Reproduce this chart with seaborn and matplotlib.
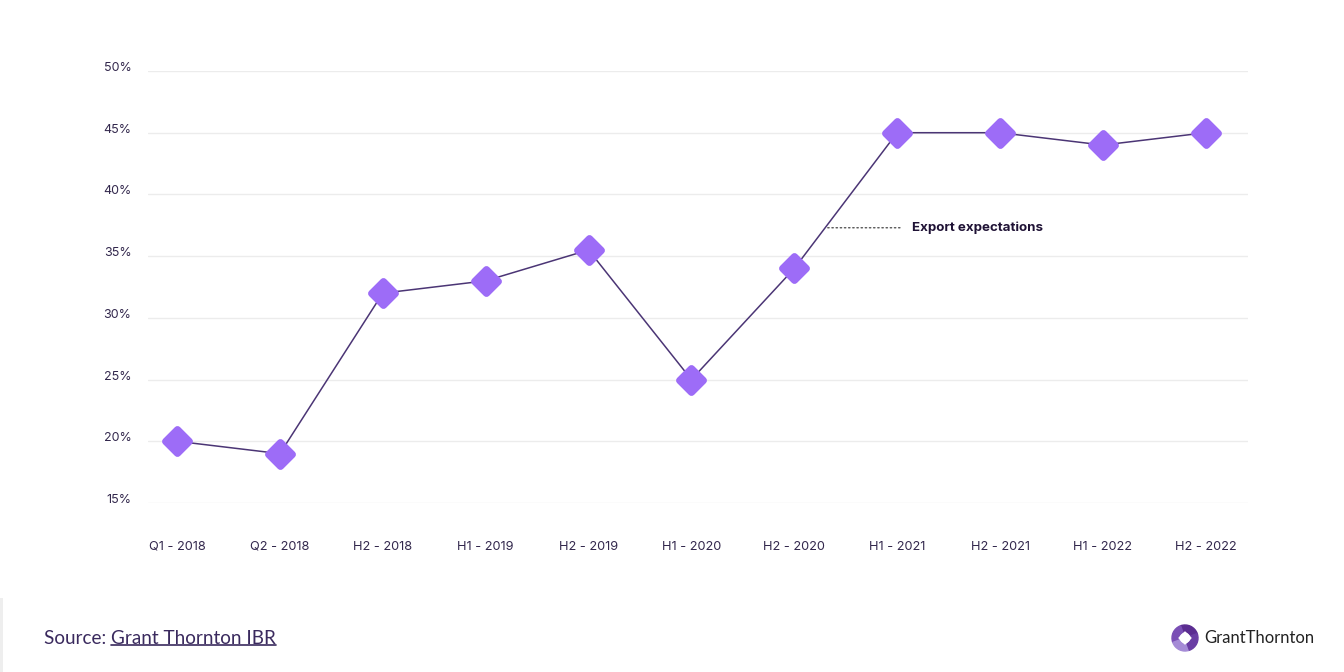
import numpy as np
import pandas as pd
import matplotlib.pyplot as plt
import seaborn as sns
from matplotlib.markers import MarkerStyle
from matplotlib.patches import Circle, Wedge, RegularPolygon, Rectangle
from matplotlib.lines import Line2D

# data
periods = ["Q1 - 2018", "Q2 - 2018", "H2 - 2018", "H1 - 2019", "H2 - 2019",
           "H1 - 2020", "H2 - 2020", "H1 - 2021", "H2 - 2021", "H1 - 2022", "H2 - 2022"]
export_pct = [20, 19, 32, 33, 35.5, 25, 34, 45, 45, 44, 45]
y_ticks = [15, 20, 25, 30, 35, 40, 45, 50]
y_tick_labels = [f"{v}%" for v in y_ticks]
series_label = "Export expectations"
label_level = 37.3
source_prefix = "Source: "
source_link = "Grant Thornton IBR"
brand = "GrantThornton"

TEXT = "#33284d"
LINE = "#4b3575"
MARK = "#9d6cf7"
GRID = "#ececec"

df = pd.DataFrame({"period": periods, "export": export_pct})

sns.set_theme(style="white")
plt.rcParams["font.family"] = ["Inter", "DejaVu Sans"]

W, H = 1344, 672
fig = plt.figure(figsize=(W / 100, H / 100), dpi=100)
fig.patch.set_facecolor("white")
ax = fig.add_axes([148 / W, (H - 503) / H, (1248 - 148) / W, (503 - 71) / H])

sns.lineplot(data=df, x="period", y="export", ax=ax, sort=False,
             color=LINE, linewidth=1.1,
             marker=MarkerStyle("D", joinstyle="round"), markersize=12,
             markerfacecolor=MARK, markeredgecolor=MARK, markeredgewidth=5,
             clip_on=False, zorder=3)

ax.set_ylim(15, 50)
ax.set_xlim(-0.282, 10.41)
ax.set_yticks(y_ticks)
ax.set_yticklabels(y_tick_labels)
ax.yaxis.grid(True, color=GRID, linewidth=1)
ax.xaxis.grid(False)
sns.despine(ax=ax, left=True, bottom=True)
ax.tick_params(axis="y", length=0, pad=12, labelsize=9, labelcolor=TEXT)
ax.tick_params(axis="x", length=0, pad=27, labelsize=9.2, labelcolor=TEXT)
for lab in ax.get_yticklabels():
    lab.set_verticalalignment("baseline")
ax.set_xlabel("")
ax.set_ylabel("")

# series label with dotted leader from the line
i0 = 6
frac = (label_level - export_pct[i0]) / (export_pct[i0 + 1] - export_pct[i0])
ax.annotate(series_label, xy=(i0 + frac, label_level), xytext=(i0 + 1.14, label_level),
            ha="left", va="center", fontsize=9.6, fontweight="bold", color="#1f1235",
            arrowprops=dict(arrowstyle="-", linestyle=(0, (1, 2)), color="#555555",
                            lw=1, shrinkA=6, shrinkB=0))

# footer: source with underlined link
t1 = fig.text(44 / W, 1 - 638 / H, source_prefix, fontsize=13.6, color="#3a2a5e",
              ha="left", va="center", family=["Lato", "DejaVu Sans"])
fig.canvas.draw()
r = fig.canvas.get_renderer()
bb = t1.get_window_extent(r)
t2 = fig.text(bb.x1 / W, 1 - 638 / H, source_link, fontsize=13.6, color="#3a2a5e",
              ha="left", va="center", family=["Lato", "DejaVu Sans"])
bb2 = t2.get_window_extent(r)
fig.add_artist(Line2D([bb2.x0 / W, bb2.x1 / W], [(bb2.y0 + 2) / H] * 2,
                      color="#3a2a5e", lw=1.2, transform=fig.transFigure))

# faint left edge strip
fig.add_artist(Rectangle((0, 0), 3 / W, 74 / H, transform=fig.transFigure,
                         color="#eeeeee", lw=0))

# logo
cy = 1 - 638 / H
ring = ["#5b2d91", "#7a4fb5", "#a58bd6", "#6a3ea4"]
for k, c in enumerate(ring):
    fig.add_artist(Wedge((1185, H - 638), 13, 90 * k + 20, 90 * k + 110,
                         width=7, color=c, transform=None))
fig.add_artist(RegularPolygon((1185, H - 638), 4, radius=6, color="white",
                              transform=None))
fig.text(1204 / W, cy, brand, fontsize=12, color="#222222", ha="left", va="center",
         family=["Lato", "DejaVu Sans"])

fig.savefig("out.png", dpi=100)
